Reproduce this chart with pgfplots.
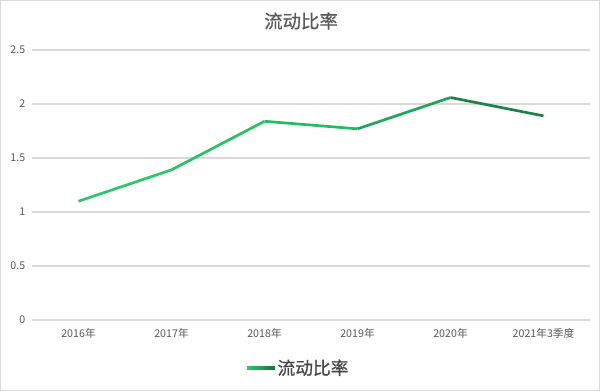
\documentclass[border=0pt]{standalone}
\usepackage{pgfplots}
\pgfplotsset{compat=1.18}
\usepackage{fontspec}
\setmainfont{Noto Sans CJK SC}
\newfontfamily\tfont{Noto Sans CJK SC}[FakeBold=0.6]
\definecolor{txtgray}{RGB}{89,89,89}
\definecolor{legtxt}{RGB}{70,70,70}
\definecolor{gridgray}{RGB}{217,217,217}
\definecolor{lineg}{RGB}{40,205,105}
\definecolor{lined}{RGB}{22,115,58}
\begin{document}
\begin{tikzpicture}[x=1pt,y=1pt]
\fill[white] (0,0) rectangle (450,293.25);
\draw[gridgray, line width=0.8pt] (0.4,0.4) rectangle (449.6,292.85);
\node[text=txtgray, font=\tfont\fontsize{13.8}{15}\selectfont] at (225.75,277.5) {流动比率};
\begin{axis}[
  at={(24pt,53.25pt)}, anchor=south west,
  scale only axis, width=418.5pt, height=202.5pt,
  xmin=-0.5, xmax=5.5, ymin=0, ymax=2.5,
  xtick={0,...,5},
  xticklabels={2016年,2017年,2018年,2019年,2020年,2021年3季度},
  ytick={0,0.5,1,1.5,2,2.5},
  yticklabels={0,0.5,1,1.5,2,2.5},
  axis line style={draw=none},
  major tick length=0pt,
  ymajorgrids, grid style={gridgray, line width=0.8pt},
  tick label style={text=txtgray, font=\fontsize{8}{9}\selectfont},
  yticklabel style={xshift=-1.5pt},
  xticklabel style={yshift=-3pt},
  /pgf/number format/assume math mode=true,
  clip=false,
  legend style={at={(0.4785,-0.178)}, anchor=center, draw=none, fill=none,
     font=\tfont\fontsize{13.3}{15}\selectfont, text=legtxt},
  legend cell align=left,
  legend image code/.code={\shade[left color=lineg, right color=lined, draw=none] (0pt,-1.25pt) rectangle (21pt,1.25pt);},
  colormap={gg}{rgb255(0)=(40,205,105) rgb255(3)=(32,185,95) rgb255(5)=(22,115,58)},
]
\addplot[mesh, point meta=x, line width=2pt, line join=round, forget plot]
  coordinates {(0,1.10) (1,1.39) (2,1.84) (3,1.77) (4,2.06) (5,1.89)};
\addlegendimage{}
\addlegendentry{流动比率}
\end{axis}
\end{tikzpicture}
\end{document}
